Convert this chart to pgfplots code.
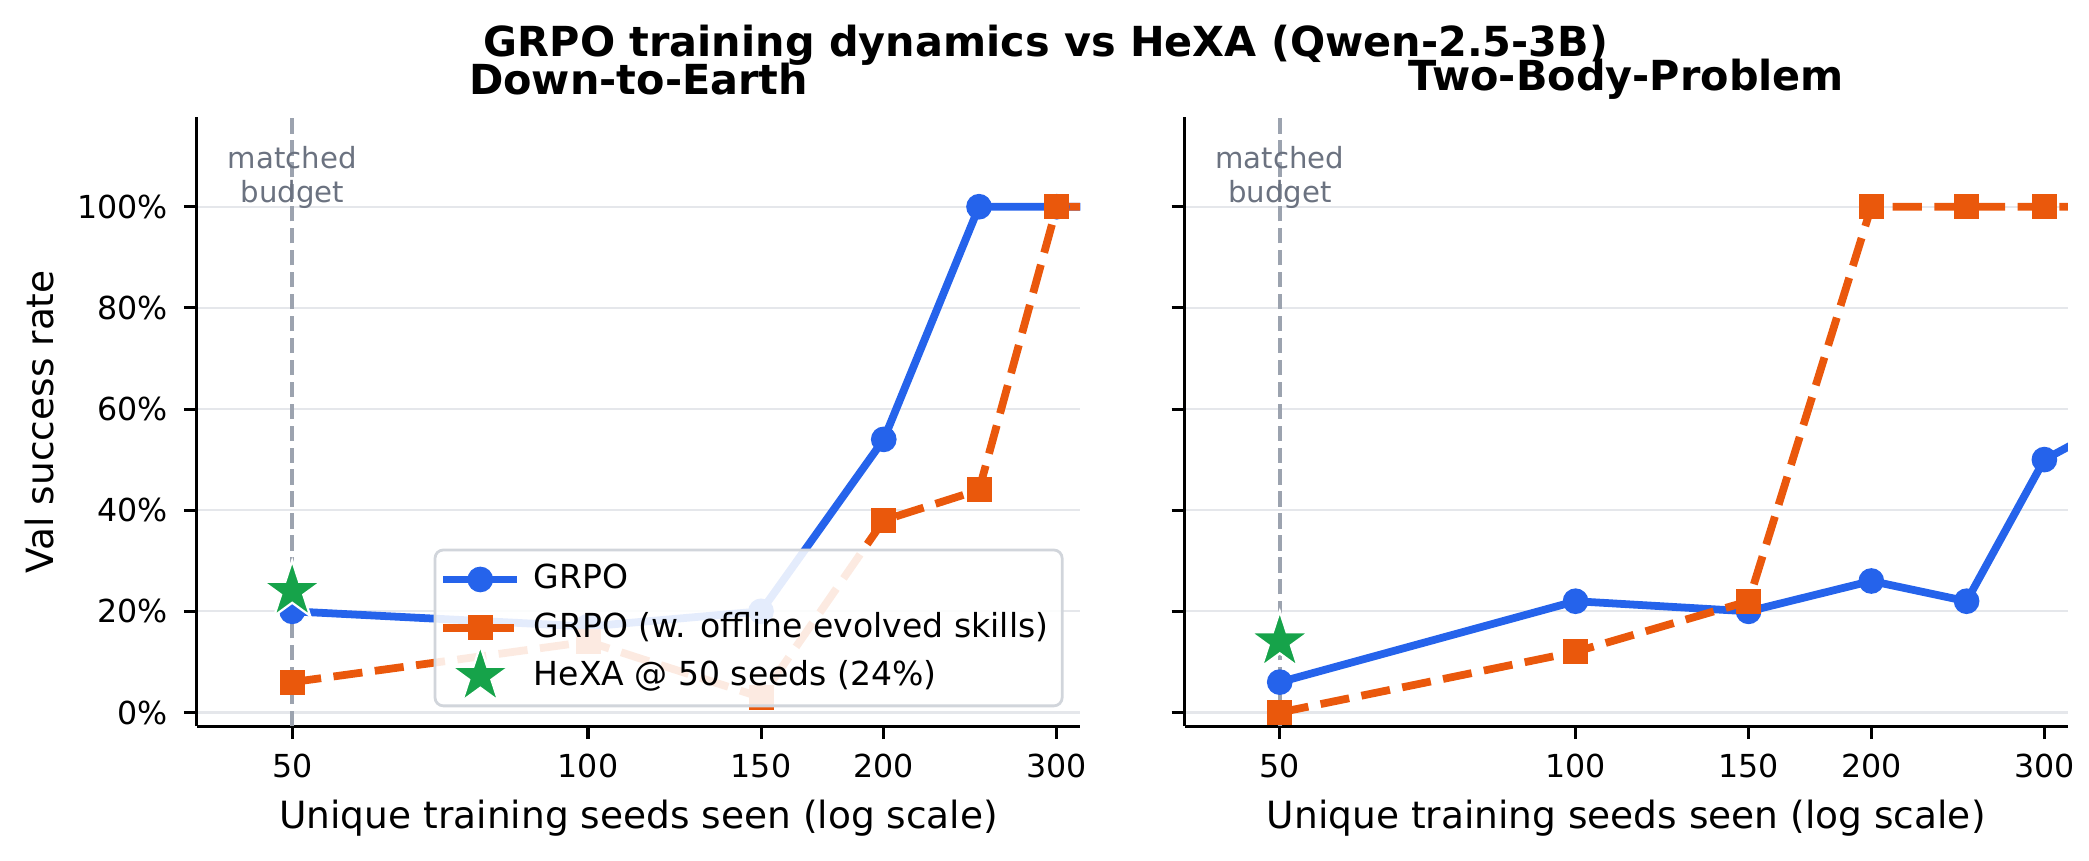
\documentclass[border=0pt]{standalone}
\usepackage{fontspec}
\setmainfont{DejaVu Sans}
\usepackage{pgfplots}
\pgfplotsset{compat=1.18}
\definecolor{cblue}{HTML}{2563EB}
\definecolor{corange}{HTML}{EA580C}
\definecolor{cgreen}{HTML}{16A34A}
\definecolor{cgrid}{HTML}{E5E7EB}
\definecolor{cvline}{HTML}{9CA3AF}
\definecolor{ctext}{HTML}{6B7280}
\definecolor{clegend}{HTML}{D1D5DB}

\pgfdeclareplotmark{fstar}{%
  \pgfpathmoveto{\pgfpointpolar{90}{\pgfplotmarksize}}%
  \pgfpathlineto{\pgfpointpolar{126}{0.382\pgfplotmarksize}}%
  \pgfpathlineto{\pgfpointpolar{162}{\pgfplotmarksize}}%
  \pgfpathlineto{\pgfpointpolar{198}{0.382\pgfplotmarksize}}%
  \pgfpathlineto{\pgfpointpolar{234}{\pgfplotmarksize}}%
  \pgfpathlineto{\pgfpointpolar{270}{0.382\pgfplotmarksize}}%
  \pgfpathlineto{\pgfpointpolar{306}{\pgfplotmarksize}}%
  \pgfpathlineto{\pgfpointpolar{342}{0.382\pgfplotmarksize}}%
  \pgfpathlineto{\pgfpointpolar{18}{\pgfplotmarksize}}%
  \pgfpathlineto{\pgfpointpolar{54}{0.382\pgfplotmarksize}}%
  \pgfpathclose
  \pgfusepathqfillstroke
}

\pgfplotsset{
  legend image code/.code={%
    \pgfinterruptboundingbox
    \draw[fill opacity=1, draw opacity=1, mark repeat=2,mark phase=2,#1] plot coordinates {(0pt,0pt) (13.3pt,0pt) (26.6pt,0pt)};%
    \endpgfinterruptboundingbox
    \pgfpathrectangle{\pgfqpoint{0pt}{-4pt}}{\pgfqpoint{26.6pt}{8pt}}\pgfusepath{}%
  },
}
\pgfplotsset{
  myax/.style={
    scale only axis, width=318pt, height=219.2pt,
    xmin=40, xmax=317, ymin=-2.7, ymax=117.7,
    axis x line*=bottom, axis y line*=left,
    axis line style={line width=1.1pt, black},
    xtick={50,100,150,200,300}, xticklabels={50,100,150,200,300},
    minor xtick={},
    ytick={0,20,40,60,80,100},
    tick align=outside, major tick length=4.7pt,
    every tick/.style={black, line width=1.1pt},
    ymajorgrids, grid style={cgrid, line width=0.8pt},
    tick label style={font=\fontsize{11.4}{13}\selectfont},
    yticklabel style={xshift=-2.3pt},
    xticklabel style={yshift=-1.9pt},
    xlabel={Unique training seeds seen (log scale)},
    label style={font=\fontsize{13.5}{16}\selectfont},
    xlabel style={at={(axis description cs:0.5,0)}, anchor=center, yshift=-33.1pt},
    title style={font=\bfseries\fontsize{14.9}{17}\selectfont, at={(axis description cs:0.5,1)}, anchor=center, yshift=7.8pt},
  },
  vline/.style={cvline, line width=1.4pt, dash pattern=on 5.5pt off 2.4pt, forget plot},
  blueline/.style={cblue, line width=2.8pt, mark=*, mark size=3.2pt, mark options={solid}},
  orangeline/.style={corange, line width=2.8pt, dash pattern=on 10.5pt off 4.5pt, mark=square*, mark size=3.1pt, mark options={solid}},
  hexa/.style={only marks, mark=fstar, mark size=11pt, mark options={fill=cgreen, draw=white, line width=0.8pt}},
}

\begin{document}
\begin{tikzpicture}
\path[use as bounding box] (-70.9pt,-48.2pt) rectangle (681.1pt,261.4pt);

\begin{axis}[xmode=log, myax, at={(0pt,0pt)}, anchor=south west,
  title={Down-to-Earth},
  yticklabels={0\%,20\%,40\%,60\%,80\%,100\%},
  ylabel={Val success rate},
  ylabel style={at={(axis description cs:-0.1777,0.5)}, anchor=center},
  legend style={at={(0.981,0.031)}, anchor=south east, fill=white, fill opacity=0.88, draw opacity=1, text opacity=1,
    draw=clegend, line width=1pt, rounded corners=3pt, font=\fontsize{11.9}{14}\selectfont,
    cells={anchor=west}, row sep=2.4pt, column sep=4pt, inner xsep=3pt, inner ysep=3.2pt,
    nodes={inner sep=2pt, text depth=0.2em}},
]
\addplot[vline] coordinates {(50,-2.7) (50,117.7)};
\addplot[blueline] coordinates {(50,20) (100,17) (150,20) (200,54) (250,100) (300,100) (350,100)};
\addlegendentry{GRPO}
\addplot[orangeline] coordinates {(50,6) (100,14) (150,3) (200,38) (250,44) (300,100) (350,100)};
\addlegendentry{GRPO (w. offline evolved skills)}
\addplot[hexa] coordinates {(50,24)};
\addlegendentry{HeXA @ 50 seeds (24\%)}
\node[align=center, text=ctext, font=\fontsize{10.5}{12.4}\selectfont] at (axis cs:50,105.8) {matched\\budget};
\end{axis}

\begin{axis}[xmode=log, myax, at={(355.5pt,0pt)}, anchor=south west,
  title={Two-Body-Problem},
  yticklabels={},
]
\addplot[vline] coordinates {(50,-2.7) (50,117.7)};
\addplot[blueline] coordinates {(50,6) (100,22) (150,20) (200,26) (250,22) (300,50) (350,57)};
\addplot[orangeline] coordinates {(50,0) (100,12) (150,22) (200,100) (250,100) (300,100) (350,100)};
\addplot[hexa] coordinates {(50,14)};
\node[align=center, text=ctext, font=\fontsize{10.5}{12.4}\selectfont] at (axis cs:50,105.8) {matched\\budget};
\end{axis}

\node[font=\bfseries\fontsize{14.9}{17}\selectfont] at (305.6pt,245.1pt) {GRPO training dynamics vs HeXA (Qwen-2.5-3B)};
\end{tikzpicture}
\end{document}
